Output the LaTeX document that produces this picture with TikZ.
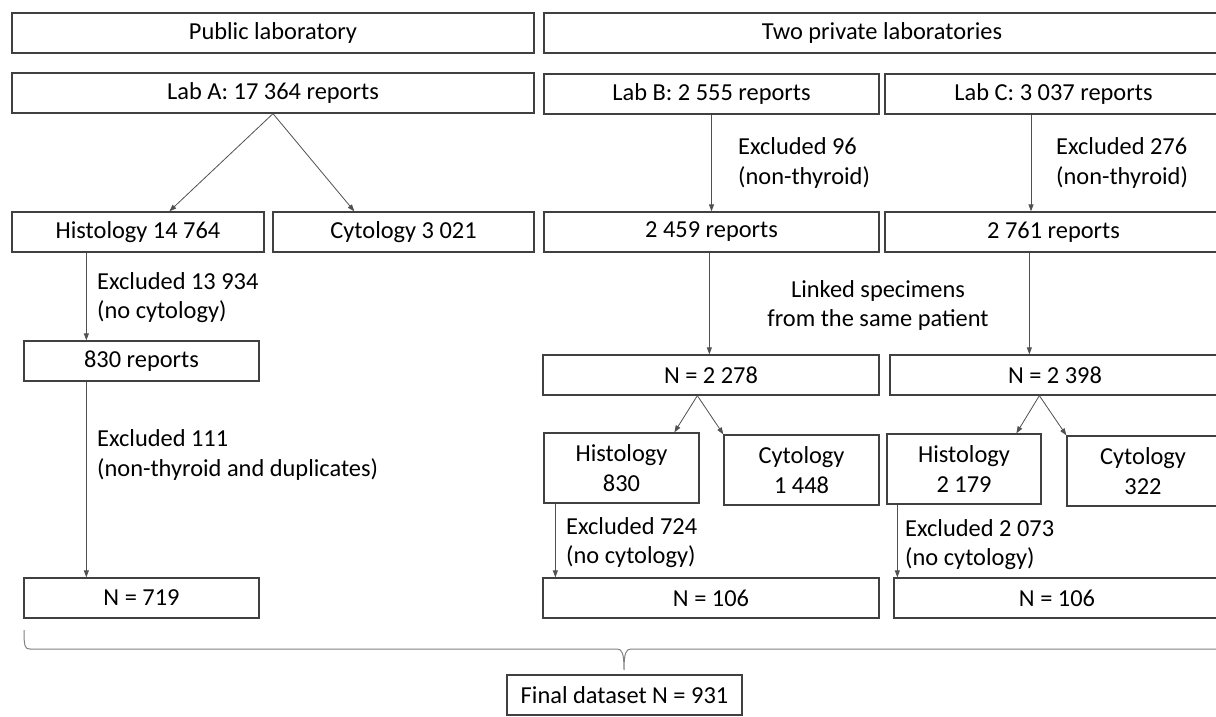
\documentclass[tikz,border=0pt]{standalone}
\usepackage{fontspec}
\setmainfont{Carlito}
\usetikzlibrary{arrows.meta,calc}
\definecolor{boxline}{HTML}{404040}
\definecolor{arrline}{HTML}{505050}
\definecolor{braceline}{HTML}{808080}
\begin{document}
\begin{tikzpicture}[x=1pt,y=-1pt,
  every node/.style={font=\fontsize{24.4}{29.5}\selectfont, text=black},
  box/.style={draw=boxline, line width=1.3pt, rectangle, inner sep=0pt, minimum height=40pt},
  lbl/.style={anchor=west, align=left, inner sep=0pt},
  arr/.style={draw=arrline, line width=0.8pt, -{Triangle[length=7pt,width=5pt]}},
  bracestyle/.style={draw=braceline, line width=1pt}]
\useasboundingbox (0,0) rectangle (1216,717);
\clip (0,0) rectangle (1216,717);

% headers
\node[box, minimum width=522pt] (pub) at (273,33) {Public laboratory};
\node[box, minimum width=676pt] (priv) at (882,33) {Two private laboratories};

% labs
\node[box, minimum width=522pt] (labA) at (273,93) {Lab A: 17 364 reports};
\node[box, minimum width=335pt] (labB) at (711.5,94) {Lab B: 2 555 reports};
\node[box, minimum width=337pt] (labC) at (1053.5,94) {Lab C: 3 037 reports};

% row 3
\node[box, minimum width=252pt] (histA) at (138,232) {Histology 14 764};
\node[box, minimum width=261pt] (cytA) at (403.5,232) {Cytology 3 021};
\node[box, minimum width=335pt] (repB) at (711.5,232) {2 459 reports};
\node[box, minimum width=337pt] (repC) at (1053.5,232) {2 761 reports};

% left column
\node[box, minimum width=235pt] (rep830) at (141.5,361) {830 reports};
\node[box, minimum width=235pt] (nA) at (141.5,598) {N = 719};

% right: linked
\node[box, minimum width=336pt] (nB) at (711,375) {N = 2 278};
\node[box, minimum width=330pt] (nC) at (1055,375) {N = 2 398};

\node[box, minimum width=155pt, minimum height=70pt, align=center] (histB) at (621.5,468) {Histology\\830};
\node[box, minimum width=155pt, minimum height=70pt, align=center] (cytB) at (801.5,470) {Cytology\\1 448};
\node[box, minimum width=154pt, minimum height=70pt, align=center] (histC) at (964,469) {Histology\\2 179};
\node[box, minimum width=152pt, minimum height=70pt, align=center] (cytC) at (1143,471) {Cytology\\322};

\node[box, minimum width=336pt] (finB) at (711,598) {N = 106};
\node[box, minimum width=326pt] (finC) at (1057,598) {N = 106};

\node[box, minimum width=235pt] (final) at (624.5,695) {Final dataset N = 931};

% labels
\node[lbl] (exB) at (738,163) {Excluded 96\\(non-thyroid)};
\node[lbl] (exC) at (1056,163) {Excluded 276\\(non-thyroid)};
\node[lbl] (exA1) at (97,297.5) {Excluded 13 934\\(no cytology)};
\node[lbl] (exA2) at (97,455) {Excluded 111\\(non-thyroid and duplicates)};
\node[align=center, inner sep=0pt] (link) at (878,305.5) {Linked specimens\\from the same patient};
\node[lbl] (exB2) at (566,542.5) {Excluded 724\\(no cytology)};
\node[lbl] (exC2) at (905,544.5) {Excluded 2 073\\(no cytology)};

% arrows
\draw[arr] (labA.south) -- ($(histA.north west)+(158,0)$);
\draw[arr] (labA.south) -- ($(cytA.north west)+(82,0)$);
\draw[arr] (labB.south) -- (repB.north);
\draw[arr] ([xshift=-22.5pt]labC.south) -- ([xshift=-22.5pt]repC.north);
\draw[arr] ($(histA.south west)+(75,0)$) -- ($(rep830.north west)+(63,0)$);
\draw[arr] ($(rep830.south west)+(63,0)$) -- ($(nA.north west)+(63,0)$);
\draw[arr] ($(repB.south west)+(166,0)$) -- ($(nB.north west)+(167,0)$);
\draw[arr] ($(repC.south west)+(145,0)$) -- ($(nC.north west)+(140,0)$);
\draw[arr] ($(nB.south west)+(155,0)$) -- ($(histB.north west)+(131,0)$);
\draw[arr] ($(nB.south west)+(155,0)$) -- (cytB.north west);
\draw[arr] ($(nC.south west)+(150,0)$) -- ($(histC.north west)+(130,0)$);
\draw[arr] ($(nC.south west)+(150,0)$) -- (cytC.north west);
\draw[arr] ($(histB.south west)+(12,0)$) -- ($(finB.north west)+(13,0)$);
\draw[arr] ($(histC.south west)+(11,0)$) -- ($(finC.north west)+(4,0)$);

% brace
\draw[bracestyle] (24,630) .. controls (24,647) and (25,649) .. (30,649) -- (617,649)
  .. controls (622,649) and (624,653) .. (624,670)
  .. controls (624,653) and (626,649) .. (631,649) -- (1224,649)
  .. controls (1229,649) and (1230,647) .. (1230,630);
\end{tikzpicture}
\end{document}
